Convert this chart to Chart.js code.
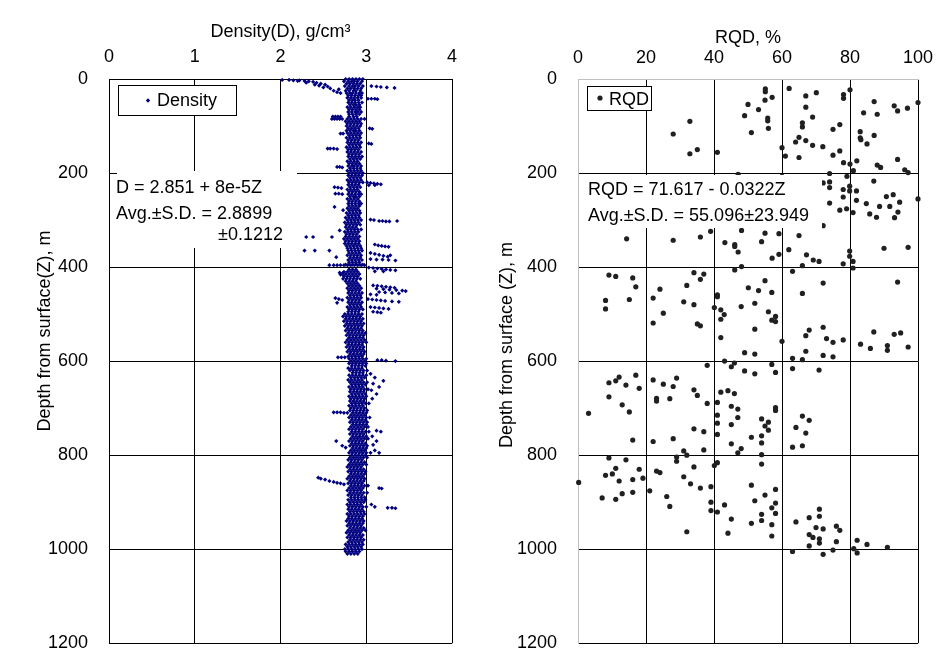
<!DOCTYPE html>
<html>
<head>
<meta charset="utf-8">
<script src="https://cdn.jsdelivr.net/npm/chart.js@4.4.1/dist/chart.umd.min.js"></script>
<style>
  body { margin: 0; background: #fff; overflow: hidden; }
  #wrap { position: relative; width: 952px; height: 669px; overflow: hidden; }
  canvas { position: absolute; top: 0; }
  #densityChart { left: 0; }
  #rqdChart { left: 476px; }
</style>
</head>
<body>
<div id="wrap">
  <canvas id="densityChart" width="476" height="675"></canvas>
  <canvas id="rqdChart" width="476" height="675"></canvas>
</div>
<script>
// tick labels
var densityTicks = [0, 1, 2, 3, 4];
var rqdTicks = [0, 20, 40, 60, 80, 100];
var depthTicks = [0, 200, 400, 600, 800, 1000, 1200];

// density log: [depth, density, density, ...]
var densityRowsTop = [
  [0, 2.76,2.80,2.84,2.88,2.92,2.96], [5, 2.74,2.79,2.83,2.86,2.90,2.95], [10, 2.77,2.81,2.85,2.89,2.93],
  [15, 2.75,2.80,2.84,2.87,2.91,2.96], [20, 2.78,2.82,2.86,2.90,2.94], [25, 2.76,2.80,2.85,2.88,2.93],
  [30, 2.77,2.81,2.84,2.88,2.92,2.95], [35, 2.79,2.83,2.87,2.91,2.94], [40, 2.78,2.82,2.86,2.90,2.94],
  [45, 2.80,2.84,2.87,2.91], [50, 2.79,2.83,2.87,2.91,2.95], [55, 2.81,2.85,2.88,2.92],
  [60, 2.78,2.82,2.86,2.90,2.93], [65, 2.80,2.84,2.88,2.92], [70, 2.79,2.83,2.87,2.90,2.94],
  [75, 2.80,2.84,2.88,2.92], [80, 2.61,2.64,2.67,2.70,2.80,2.85,2.89],
  [85, 2.60,2.63,2.66,2.69,2.72,2.78,2.82,2.86,2.90,2.94,2.98], [90, 2.76,2.80,2.84,2.88,2.92],
  [95, 2.78,2.82,2.86,2.90,2.94], [100, 2.77,2.81,2.85,2.89,2.93], [105, 2.79,2.83,2.87,2.91],
  [110, 2.77,2.81,2.85,2.88,2.92], [115, 2.78,2.82,2.86,2.90,2.94], [120, 2.80,2.84,2.88,2.92],
  [125, 2.77,2.81,2.85,2.89,2.93], [130, 2.79,2.83,2.87,2.91], [135, 2.78,2.82,2.86,2.90,2.94],
  [140, 2.80,2.84,2.88,2.92], [145, 2.77,2.81,2.85,2.89,2.93], [150, 2.79,2.83,2.87,2.91],
  [155, 2.78,2.82,2.86,2.90,2.94], [160, 2.80,2.84,2.88,2.92], [165, 2.79,2.83,2.87,2.91,2.95],
  [170, 2.81,2.85,2.89,2.93], [175, 2.78,2.82,2.86,2.90], [180, 2.80,2.84,2.88,2.92],
  [185, 2.79,2.83,2.86,2.90,2.94], [190, 2.81,2.85,2.89,2.93], [195, 2.78,2.82,2.86,2.90,2.94],
  [200, 2.80,2.84,2.88,2.92,2.96]
];
var densityRowsMid = [
  [205, 2.79,2.83,2.87,2.91,2.95], [210, 2.81,2.85,2.89,2.93], [215, 2.78,2.82,2.86,2.90,2.94],
  [220, 2.80,2.84,2.88,2.92,2.96], [225, 2.79,2.83,2.87,2.91], [230, 2.81,2.85,2.89,2.93],
  [235, 2.78,2.82,2.86,2.90], [240, 2.80,2.84,2.88,2.92], [245, 2.79,2.83,2.87,2.91,2.94],
  [250, 2.81,2.85,2.88,2.92], [255, 2.78,2.82,2.86,2.90], [260, 2.80,2.84,2.88,2.92],
  [265, 2.79,2.83,2.87,2.91,2.94], [270, 2.80,2.84,2.88,2.92], [275, 2.78,2.82,2.86,2.90],
  [280, 2.80,2.84,2.88,2.92], [285, 2.77,2.81,2.85,2.89,2.93], [290, 2.79,2.83,2.87,2.91],
  [295, 2.76,2.80,2.84,2.88,2.92], [300, 2.78,2.82,2.86,2.90,2.94], [305, 2.75,2.79,2.83,2.87,2.91],
  [310, 2.77,2.81,2.85,2.89,2.93], [315, 2.76,2.80,2.84,2.88], [320, 2.78,2.82,2.86,2.90,2.94],
  [325, 2.75,2.79,2.83,2.87,2.91], [330, 2.77,2.81,2.85,2.89], [335, 2.76,2.80,2.84,2.88,2.92],
  [340, 2.74,2.78,2.82,2.86,2.90], [345, 2.76,2.80,2.84,2.88,2.92], [350, 2.75,2.79,2.83,2.87,2.91],
  [355, 2.77,2.81,2.85,2.89,2.93], [360, 2.78,2.82,2.86,2.90,2.94], [365, 2.79,2.83,2.87,2.91,2.95],
  [370, 2.80,2.84,2.88,2.92], [375, 2.78,2.82,2.86,2.90,2.94], [380, 2.81,2.85,2.89,2.93],
  [385, 2.79,2.83,2.87,2.91,2.95], [390, 2.80,2.84,2.88,2.92], [395, 2.76,2.80,2.84,2.88,2.92,2.96],
  [405, 2.80,2.84,2.88], [410, 2.74,2.78,2.82,2.86,2.90], [415, 2.72,2.76,2.80,2.84,2.88,2.92],
  [420, 2.74,2.78,2.82,2.86,2.90], [425, 2.73,2.77,2.81,2.85,2.89,2.93], [430, 2.76,2.80,2.84,2.88],
  [435, 2.78,2.82,2.86,2.90], [440, 2.80,2.84,2.88,2.92], [445, 2.78,2.82,2.86,2.90,2.94],
  [450, 2.80,2.84,2.88,2.92], [455, 2.79,2.83,2.87,2.91,2.95], [460, 2.81,2.85,2.89,2.93],
  [465, 2.78,2.82,2.86,2.90,2.94], [470, 2.80,2.84,2.88,2.92], [475, 2.79,2.83,2.87,2.91,2.95],
  [480, 2.81,2.85,2.89,2.93], [485, 2.78,2.82,2.86,2.90,2.94], [490, 2.80,2.84,2.88,2.92,2.96],
  [495, 2.79,2.83,2.87,2.91], [500, 2.75,2.79,2.83,2.87,2.91,2.95], [505, 2.73,2.77,2.81,2.85,2.89,2.93],
  [510, 2.76,2.80,2.84,2.88,2.92,2.96], [515, 2.74,2.78,2.82,2.86,2.90,2.94], [520, 2.77,2.81,2.85,2.89,2.93,2.97],
  [525, 2.75,2.79,2.83,2.87,2.91,2.95], [530, 2.78,2.82,2.86,2.90,2.94], [535, 2.76,2.80,2.84,2.88,2.92,2.96],
  [540, 2.79,2.83,2.87,2.91,2.95,2.99], [545, 2.77,2.81,2.85,2.89,2.93,2.97], [550, 2.80,2.84,2.88,2.92,2.96],
  [555, 2.78,2.82,2.86,2.90,2.94,2.98], [560, 2.76,2.80,2.84,2.88,2.92,2.96,3.00], [565, 2.79,2.83,2.87,2.91,2.95],
  [570, 2.77,2.81,2.85,2.89,2.93,2.97], [575, 2.80,2.84,2.88,2.92,2.96], [580, 2.78,2.82,2.86,2.90,2.94,2.98],
  [585, 2.81,2.85,2.89,2.93,2.97], [590, 2.79,2.83,2.87,2.91,2.95], [595, 2.80,2.84,2.88,2.92,2.96,3.00]
];
var densityRowsDeep = [
  [600, 2.82,2.86,2.90,2.94,2.98], [605, 2.80,2.84,2.88,2.92,2.96,3.00], [610, 2.83,2.87,2.91,2.95,2.99],
  [615, 2.79,2.83,2.87,2.91,2.95], [620, 2.81,2.85,2.89,2.93,2.97,3.01], [625, 2.84,2.88,2.92,2.96],
  [630, 2.80,2.84,2.88,2.92,2.96,3.00], [635, 2.82,2.86,2.90,2.94,2.98], [640, 2.79,2.83,2.87,2.91,2.95],
  [645, 2.81,2.85,2.89,2.93,2.97,3.01], [650, 2.83,2.87,2.91,2.95,2.99], [655, 2.80,2.84,2.88,2.92,2.96],
  [660, 2.82,2.86,2.90,2.94,2.98,3.02], [665, 2.81,2.85,2.89,2.93,2.97], [670, 2.83,2.87,2.91,2.95,2.99],
  [675, 2.80,2.84,2.88,2.92,2.96,3.00], [680, 2.82,2.86,2.90,2.94,2.98], [685, 2.81,2.85,2.89,2.93,2.97],
  [690, 2.83,2.87,2.91,2.95,2.99,3.03], [695, 2.80,2.84,2.88,2.92,2.96], [700, 2.82,2.86,2.90,2.94,2.98],
  [705, 2.81,2.85,2.89,2.93,2.97,3.01], [710, 2.84,2.88,2.92,2.96,3.00], [715, 2.82,2.86,2.90,2.94,2.98],
  [720, 2.80,2.84,2.88,2.92,2.96,3.00,3.04], [725, 2.83,2.87,2.91,2.95,2.99], [730, 2.81,2.85,2.89,2.93,2.97,3.01],
  [735, 2.84,2.88,2.92,2.96,3.00], [740, 2.82,2.86,2.90,2.94,2.98,3.02], [745, 2.80,2.84,2.88,2.92,2.96],
  [750, 2.83,2.87,2.91,2.95,2.99,3.03], [755, 2.81,2.85,2.89,2.93,2.97], [760, 2.84,2.88,2.92,2.96,3.00],
  [765, 2.82,2.86,2.90,2.94,2.98,3.02], [770, 2.80,2.84,2.88,2.92,2.96], [775, 2.83,2.87,2.91,2.95,2.99],
  [780, 2.81,2.85,2.89,2.93,2.97,3.01], [785, 2.84,2.88,2.92,2.96,3.00], [790, 2.82,2.86,2.90,2.94,2.98],
  [795, 2.80,2.84,2.88,2.92,2.96,3.00], [800, 2.83,2.87,2.91,2.95,2.99], [805, 2.81,2.85,2.89,2.93,2.97,3.01],
  [810, 2.79,2.83,2.87,2.91,2.95], [815, 2.82,2.86,2.90,2.94,2.98], [820, 2.80,2.84,2.88,2.92,2.96,3.00],
  [825, 2.78,2.82,2.86,2.90,2.94], [830, 2.81,2.85,2.89,2.93,2.97], [835, 2.79,2.83,2.87,2.91,2.95,2.99],
  [840, 2.82,2.86,2.90,2.94,2.98], [845, 2.80,2.84,2.88,2.92,2.96], [850, 2.78,2.82,2.86,2.90,2.94,2.98],
  [855, 2.81,2.85,2.89,2.93,2.97], [860, 2.79,2.83,2.87,2.91,2.95], [865, 2.82,2.86,2.90,2.94,2.98,3.02],
  [870, 2.80,2.84,2.88,2.92,2.96], [875, 2.78,2.82,2.86,2.90,2.94], [880, 2.81,2.85,2.89,2.93,2.97,3.01],
  [885, 2.79,2.83,2.87,2.91,2.95], [890, 2.82,2.86,2.90,2.94,2.98], [895, 2.79,2.83,2.87,2.91,2.95,2.99],
  [900, 2.81,2.85,2.89,2.93,2.97], [905, 2.78,2.82,2.86,2.90,2.94], [910, 2.80,2.84,2.88,2.92,2.96,3.00],
  [915, 2.79,2.83,2.87,2.91,2.95], [920, 2.81,2.85,2.89,2.93,2.97], [925, 2.78,2.82,2.86,2.90,2.94,2.98],
  [930, 2.80,2.84,2.88,2.92,2.96], [935, 2.79,2.83,2.87,2.91,2.95], [940, 2.77,2.81,2.85,2.89,2.93,2.97],
  [945, 2.80,2.84,2.88,2.92,2.96], [950, 2.78,2.82,2.86,2.90,2.94], [955, 2.81,2.85,2.89,2.93,2.97],
  [960, 2.79,2.83,2.87,2.91,2.95,2.99], [965, 2.77,2.81,2.85,2.89,2.93], [970, 2.80,2.84,2.88,2.92,2.96],
  [975, 2.78,2.82,2.86,2.90,2.94], [980, 2.81,2.85,2.89,2.93,2.97], [985, 2.79,2.83,2.87,2.91,2.95],
  [990, 2.76,2.80,2.84,2.88,2.92,2.96], [995, 2.78,2.82,2.86,2.90,2.94], [1000, 2.75,2.79,2.83,2.87,2.91,2.95],
  [1005, 2.76,2.80,2.84,2.88,2.92], [1010, 2.78,2.82,2.86,2.90]
];
// scattered density readings away from the main band: [depth, density]
var densityOutliers = [
  [2,2.02],[2,2.10],[3,2.15],[4,2.20],[3,2.22],[4,2.28],[8,2.30],[5,2.33],[6,2.38],[12,2.40],[8,2.42],
  [14,2.45],[10,2.47],[18,2.50],[12,2.52],[16,2.55],[20,2.58],[25,2.62],[28,2.66],[22,2.68],[30,2.70],
  [15,3.06],[16,3.12],[17,3.17],[18,3.24],[19,3.33],
  [42,3.02],[42,3.06],[42,3.10],[43,3.13],[105,3.04],[106,3.07],[137,3.03],[138,3.06],
  [116,2.70],[116,2.73],[148,2.55],[148,2.58],[148,2.62],[149,2.66],[187,2.66],[187,2.69],[188,2.72],
  [220,3.01],[221,3.05],[222,3.09],[223,3.13],[224,3.17],[226,3.03],[226,3.10],
  [230,2.63],[231,2.67],[232,2.71],[244,2.64],[244,2.68],[245,2.72],[272,2.63],[279,2.73],
  [299,3.05],[300,3.09],[302,3.15],[302,3.19],[303,3.23],[303,3.27],[302,3.36],
  [322,2.69],[336,2.30],[336,2.38],[336,2.60],[365,2.28],[365,2.40],[365,2.57],[379,2.65],
  [352,3.10],[354,3.14],[355,3.18],[356,3.22],[357,3.26],
  [370,3.05],[372,3.10],[374,3.15],[376,3.20],[378,3.25],[375,3.28],[383,3.05],[384,3.12],[384,3.19],[385,3.26],[386,3.34],
  [396,2.57],[396,2.62],[396,2.66],[396,2.70],[396,2.74],[396,2.78],[396,2.82],[396,2.86],[396,2.90],[396,2.94],[396,2.98],
  [401,3.03],[402,3.08],[403,3.13],[404,3.18],[405,3.23],[406,3.28],[407,3.34],[409,3.10],[409,3.20],
  [412,2.69],[414,2.72],[416,2.70],
  [439,3.08],[440,3.13],[441,3.18],[442,3.23],[443,3.28],[444,3.33],[446,3.12],[447,3.20],[448,3.27],
  [449,3.35],[450,3.42],[451,3.46],[453,3.15],[454,3.22],[455,3.30],[456,3.38],[458,3.05],[459,3.12],
  [468,3.02],[469,3.07],[470,3.12],[471,3.17],[472,3.22],[473,3.30],[474,3.38],
  [485,3.05],[486,3.10],[487,3.15],[488,3.20],[489,3.26],[466,2.64],[468,2.68],[470,2.72],[476,2.66],
  [495,3.08],[496,3.13],[497,3.17],
  [592,2.67],[592,2.71],[592,2.75],[598,3.13],[598,3.18],[599,3.23],[600,3.34],
  [627,3.05],[635,3.10],[648,3.08],[655,3.15],[662,3.06],[670,3.12],[680,3.07],[642,3.20],
  [709,2.62],[709,2.66],[709,2.70],[710,2.74],[710,2.78],
  [770,2.65],[780,2.72],[784,2.76],[760,3.07],[770,3.12],[778,3.08],[790,3.10],[795,3.15],[795,3.05],[748,3.12],[750,3.17],
  [848,2.44],[850,2.47],[852,2.52],[855,2.57],[857,2.62],[859,2.66],[860,2.70],[862,2.74],
  [870,3.15],[871,3.18],[912,3.25],[912,3.30],[913,3.34],[905,3.06],[910,3.10]
];

// RQD readings: [RQD %, depth m]
var rqdShallow = [
  [55.1,21],[55.1,27],[62.1,20],[80.0,23],[78.1,33],[78.1,41],[70.1,29],[67.0,36],[57.1,39],[55.0,45],
  [50.0,54],[53.1,65],[67.0,60],[87.1,48],[93.0,57],[94.0,68],[96.9,62],[100,50],[84.0,72],[88.0,75],
  [49.0,78],[55.8,83],[55.8,89],[69.0,81],[66.0,93],[66.0,102],[77.0,97],[75.0,107],[56.0,105],[51.0,114],
  [32.9,90],[28.0,117],[32.9,159],[35.1,150],[41.0,156],[83.0,112],[83.0,125],[83.2,129],[87.1,120],[85.0,138],
  [65.0,124],[64.0,134],[67.0,131],[69.0,141],[72.0,144],[60.0,146],[61.0,164],[65.0,167],[75.0,162],[77.0,153],
  [78.1,178],[80.0,181],[82.0,174],[81.0,195],[88.0,183],[89.0,188],[94.0,171],[96.1,193],[97.1,199]
];
var rqdMiddle = [
  [47.1,203],[60.0,207],[74.0,201],[79.1,207],[87.0,217],[72.1,221],[74.0,219],[74.0,231],[79.9,228],[79.9,238],
  [78.0,235],[81.9,238],[81.9,258],[78.0,251],[74.0,264],[77.0,279],[79.0,276],[80.9,284],[84.8,265],[85.8,287],
  [87.8,294],[88.7,271],[90.7,250],[92.7,246],[91.7,271],[94.6,262],[93.1,295],[94.1,283],[100,255],[72.1,312],
  [14.3,340],[28.0,343],[36.0,336],[39.0,324],[48.1,322],[43.2,348],[46.1,352],[46.1,356],[47.1,368],[54.0,346],
  [55.0,328],[59.1,329],[65.0,333],[62.0,363],[59.1,373],[57.1,381],[67.2,374],[69.2,385],[70.9,388],[79.9,366],
  [79.9,377],[80.9,388],[78.0,393],[80.9,402],[90.0,360],[97.1,358],[46.1,406],[48.1,399],[63.1,409],[66.0,397],
  [9.1,417],[11.1,420],[16.1,423],[17.0,442],[8.1,471],[8.1,489],[15.1,469],
  [24.1,447],[22.1,466],[25.1,498],[22.1,519],[31.1,474],[34.1,480],[32.0,439],[34.1,412],[37.0,415],[36.0,426],[35.1,521],[36.0,525],
  [41.0,459],[41.0,463],[40.1,486],[42.0,491],[43.0,501],[42.0,511],[42.0,550],[48.0,484],[50.1,444],[53.1,450],
  [52.0,477],[55.0,429],[57.0,454],[56.0,495],[58.1,505],[57.0,513],[58.1,516],[52.0,532],[49.0,582],[52.0,585],[60.0,558],
  [66.0,456],[72.1,434],[68.0,534],[67.0,546],[72.1,528],[73.1,552],[75.0,560],[78.0,555],[67.0,579],[72.1,588],
  [75.0,591],[63.1,594],[66.0,597],
  [83.1,564],[86.0,573],[87.0,538],[91.0,567],[91.0,577],[93.0,543],[94.9,540],[97.1,570],[94.0,432]
];
var rqdDeep = [
  [3.1,711],[9.1,646],[11.1,642],[12.1,634],[14.1,651],[17.0,630],[18.0,658],[9.1,676],[13.0,693],[15.1,708],[16.1,768],
  [22.1,640],[25.1,649],[29.0,636],[28.0,654],[22.1,771],[28.0,765],[23.1,679],[23.1,685],[27.0,680],[34.1,661],
  [35.1,673],[38.0,690],[38.0,609],[34.1,744],[37.0,750],[37.0,789],[31.1,791],[32.0,800],
  [41.0,688],[41.0,715],[41.0,732],[41.0,756],[42.0,666],[44.1,663],[46.0,669],[45.1,696],[47.0,702],[47.0,720],
  [45.1,735],[45.1,776],[48.0,786],[47.0,795],[43.1,600],[46.0,604],[45.1,612],[49.0,621],[52.0,627],[57.0,607],
  [58.1,624],[58.1,699],[58.1,705],[54.0,723],[56.0,730],[55.0,738],[56.0,747],[54.0,759],[51.0,762],[54.0,774],[54.0,799],
  [63.1,616],[70.9,619],[66.0,717],[68.0,726],[64.1,741],[67.0,753],[63.1,783],[66.0,780],
  [54.0,819],[0.2,858],[9.1,806],[14.1,810],[11.1,828],[8.1,843],[10.1,840],[12.1,855],[16.1,852],[18.0,830],
  [19.1,849],[7.1,891],[11.1,894],[13.0,882],[16.1,879],
  [21.1,876],[23.1,834],[24.1,837],[26.1,888],[27.0,909],[29.0,804],[29.0,813],[31.1,846],[32.0,963],[33.1,861],
  [34.1,825],[36.0,870],[39.1,867],[39.1,900],[39.1,918],[40.1,822],[41.0,816],[41.0,921],[43.1,906],[44.1,966],
  [45.1,936],[51.0,864],[52.0,897],[51.0,945],[55.0,885],[54.0,926],[54.0,939],[57.0,912],[58.1,902],[58.1,924],
  [57.0,948],[57.0,972],[58.1,873],
  [64.1,942],[68.0,933],[71.0,915],[71.0,930],[70.0,954],[72.1,957],[68.0,969],[69.1,975],[71.0,978],[71.0,987],
  [68.0,993],[63.1,1005],[72.1,1011],[75.0,1002],[76.0,984],[76.0,951],[77.0,960],
  [81.1,999],[82.1,981],[82.1,1008],[85.0,990],[91.0,996]
];

var FONT = "'Liberation Sans', Arial, sans-serif";
Chart.defaults.font.family = FONT;
Chart.defaults.font.size = 18;
Chart.defaults.color = '#000';

function rowsToPoints(rows) {
  var pts = [];
  rows.forEach(function(r) {
    for (var i = 1; i < r.length; i++) pts.push({x: r[i], y: r[0]});
  });
  return pts;
}

function fixedTicks(list) {
  return function(scale) {
    scale.ticks = list.map(function(v) { return {value: v}; });
  };
}

// numeri senza separatore delle migliaia
function plainLabel(v) { return String(v); }

// text boxes, legend box and vertical axis title, drawn over the points like in the original sheet
var overlayPlugin = {
  id: 'overlay',
  afterDatasetsDraw: function(chart, args, o) {
    var ctx = chart.ctx;
    ctx.save();
    ctx.font = '18px ' + FONT;
    ctx.textBaseline = 'alphabetic';
    ctx.textAlign = 'left';

    // equation box (white fill, no border)
    ctx.fillStyle = '#fff';
    ctx.fillRect(o.note.x, o.note.y, o.note.w, o.note.h);
    ctx.fillStyle = '#000';
    o.note.lines.forEach(function(l) { ctx.fillText(l[0], l[1], l[2]); });

    // legend
    var g = o.legend;
    ctx.fillStyle = '#fff';
    ctx.fillRect(g.x, g.y, g.w, g.h);
    ctx.strokeStyle = '#000';
    ctx.lineWidth = 1;
    ctx.strokeRect(g.x + 0.5, g.y + 0.5, g.w, g.h);
    ctx.fillStyle = g.color;
    ctx.beginPath();
    if (g.marker === 'diamond') {
      ctx.moveTo(g.mx, g.my - 2.2);
      ctx.lineTo(g.mx + 2.2, g.my);
      ctx.lineTo(g.mx, g.my + 2.2);
      ctx.lineTo(g.mx - 2.2, g.my);
      ctx.closePath();
    } else {
      ctx.arc(g.mx, g.my, 2.6, 0, Math.PI * 2);
    }
    ctx.fill();
    ctx.fillStyle = '#000';
    ctx.fillText(g.text, g.tx, g.ty);

    // y axis title
    ctx.translate(o.yTitle.x, o.yTitle.y);
    ctx.rotate(-Math.PI / 2);
    ctx.textAlign = 'center';
    ctx.textBaseline = 'middle';
    ctx.fillText(o.yTitle.text, 0, 0);
    ctx.restore();
  }
};

// Grafico densità
new Chart(document.getElementById('densityChart').getContext('2d'), {
  type: 'scatter',
  data: {
    datasets: [{
      label: 'Density',
      data: rowsToPoints(densityRowsTop).concat(rowsToPoints(densityRowsMid), rowsToPoints(densityRowsDeep),
        densityOutliers.map(function(p) { return {x: p[1], y: p[0]}; })),
      pointStyle: 'rectRot',
      pointRadius: 2.1,
      pointBorderWidth: 0,
      backgroundColor: '#000080',
      borderColor: '#000080',
      clip: false
    }]
  },
  options: {
    responsive: false,
    animation: false,
    events: [],
    layout: { padding: { left: 0, right: 24, top: 0, bottom: 21 } },
    plugins: {
      legend: { display: false },
      tooltip: { enabled: false },
      overlay: {
        note: { x: 117, y: 171, w: 180, h: 77, lines: [
          ['D = 2.851 + 8e-5Z', 116, 192.5],
          ['Avg.\u00b1S.D. = 2.8899', 116, 218.5],
          ['\u00b10.1212', 218, 240]
        ]},
        legend: { x: 118, y: 85, w: 118, h: 30, marker: 'diamond', color: '#000080', mx: 148, my: 100.5,
          text: 'Density', tx: 157, ty: 106 },
        yTitle: { x: 45, y: 331, text: 'Depth from surface(Z), m' }
      }
    },
    scales: {
      x: {
        type: 'linear', position: 'top', min: 0, max: 4,
        afterBuildTicks: fixedTicks(densityTicks),
        afterFit: function(s) { s.height = 79; },
        ticks: { padding: 11, font: { size: 18 }, callback: plainLabel },
        grid: { color: '#000', lineWidth: 1, drawTicks: false },
        border: { color: '#000', width: 1 },
        title: { display: true, text: 'Density(D), g/cm\u00b3', font: { size: 18 }, padding: { top: 21, bottom: 0 } }
      },
      y: {
        type: 'linear', reverse: true, min: 0, max: 1200,
        afterBuildTicks: fixedTicks(depthTicks),
        afterFit: function(s) { s.width = 109; },
        ticks: { padding: 21, font: { size: 18 }, callback: plainLabel },
        grid: { color: '#000', lineWidth: 1, drawTicks: false },
        border: { color: '#000', width: 1 }
      }
    }
  },
  plugins: [overlayPlugin]
});

// Grafico RQD
function rqdGrid(c) { return c.tick && c.tick.value === 0 ? '#c0c0c0' : '#000'; }

new Chart(document.getElementById('rqdChart').getContext('2d'), {
  type: 'scatter',
  data: {
    datasets: [{
      label: 'RQD',
      data: rqdShallow.concat(rqdMiddle, rqdDeep).map(function(p) { return {x: p[0], y: p[1]}; }),
      pointStyle: 'circle',
      pointRadius: 2.6,
      pointBorderWidth: 0,
      backgroundColor: '#202020',
      borderColor: '#202020',
      clip: false
    }]
  },
  options: {
    responsive: false,
    animation: false,
    events: [],
    layout: { padding: { left: 0, right: 34, top: 0, bottom: 21 } },
    plugins: {
      legend: { display: false },
      tooltip: { enabled: false },
      overlay: {
        note: { x: 104, y: 175, w: 242, h: 53, lines: [
          ['RQD = 71.617 - 0.0322Z', 112, 195],
          ['Avg.\u00b1S.D. = 55.096\u00b123.949', 112, 221]
        ]},
        legend: { x: 111, y: 86, w: 64, h: 24, marker: 'circle', color: '#202020', mx: 124, my: 98,
          text: 'RQD', tx: 133, ty: 104.5 },
        yTitle: { x: 31, y: 345, text: 'Depth from surface (Z), m' }
      }
    },
    scales: {
      x: {
        type: 'linear', position: 'top', min: 0, max: 100,
        afterBuildTicks: fixedTicks(rqdTicks),
        afterFit: function(s) { s.height = 79; },
        ticks: { padding: 10, font: { size: 18 }, callback: plainLabel },
        grid: { color: rqdGrid, lineWidth: 1, drawTicks: false },
        border: { color: '#c0c0c0', width: 1 },
        title: { display: true, text: 'RQD, %', font: { size: 18 }, padding: { top: 27, bottom: 0 } }
      },
      y: {
        type: 'linear', reverse: true, min: 0, max: 1200,
        afterBuildTicks: fixedTicks(depthTicks),
        afterFit: function(s) { s.width = 102; },
        ticks: { padding: 21, font: { size: 18 }, callback: plainLabel },
        grid: { color: rqdGrid, lineWidth: 1, drawTicks: false },
        border: { color: '#c0c0c0', width: 1 }
      }
    }
  },
  plugins: [overlayPlugin]
});
</script>
</body>
</html>
